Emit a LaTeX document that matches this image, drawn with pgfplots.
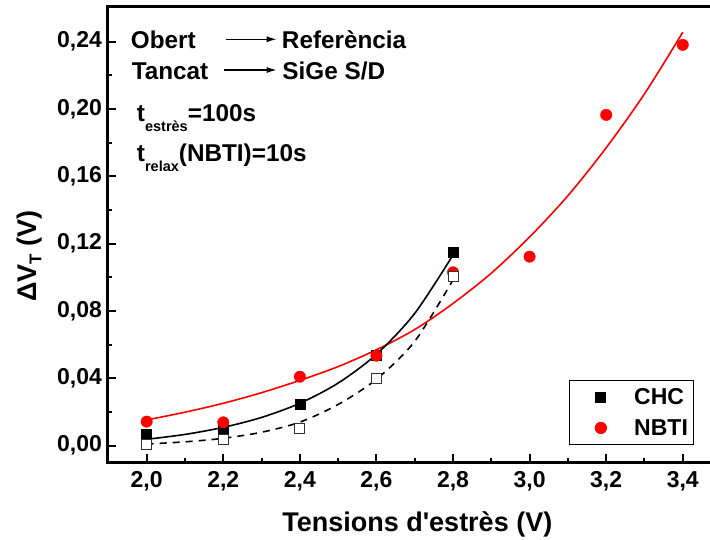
\documentclass[border=0pt]{standalone}
\usepackage{fontspec}
\setmainfont{Liberation Sans}
\usepackage{pgfplots}
\pgfplotsset{compat=1.18}
\usetikzlibrary{arrows.meta,calc}

\pgfplotstableread{
x y
2.0 0.0068
2.2 0.0099
2.4 0.0248
2.6 0.0539
2.8 0.1147
}\chcfilled
\pgfplotstableread{
x y
2.0 0.0010
2.2 0.0038
2.4 0.0101
2.6 0.0402
2.8 0.1004
}\chcopen
\pgfplotstableread{
x y
2.0 0.0143
2.2 0.0139
2.4 0.0410
2.6 0.0535
2.8 0.1030
3.0 0.1123
3.2 0.1965
3.4 0.2381
}\nbti

\begin{document}
\begin{tikzpicture}
\begin{axis}[
  name=ax,
  scale only axis,
  width=603.5pt, height=455pt,
  xmin=1.899, xmax=3.475,
  ymin=-0.00968, ymax=0.2606,
  axis line style={line width=3pt},
  tick align=inside,
  xtick pos=left, ytick pos=left,
  xtick={2.0,2.2,2.4,2.6,2.8,3.0,3.2,3.4},
  ytick={0,0.04,0.08,0.12,0.16,0.20,0.24},
  minor x tick num=1, minor y tick num=1,
  major tick length=8pt, minor tick length=4pt,
  every tick/.style={black, line width=2pt},
  scaled x ticks=false, scaled y ticks=false,
  xticklabel style={/pgf/number format/use comma, /pgf/number format/fixed, /pgf/number format/fixed zerofill, /pgf/number format/precision=1, /pgf/number format/assume math mode=true, yshift=-6pt},
  yticklabel style={/pgf/number format/use comma, /pgf/number format/fixed, /pgf/number format/fixed zerofill, /pgf/number format/precision=2, /pgf/number format/assume math mode=true, xshift=-2.5pt},
  tick label style={font=\bfseries\fontsize{23}{27}\selectfont},
  xlabel={Tensions d\textquotesingle estrès (V)},
  xlabel style={font=\bfseries\fontsize{27}{30}\selectfont, at={([yshift=-69pt]rel axis cs:0.5125,0)}, anchor=base},
  ylabel={ΔV\raisebox{-0.3ex}{\fontsize{17}{18}\selectfont T} (V)},
  ylabel style={font=\bfseries\fontsize{27}{30}\selectfont, at={([xshift=-71pt]rel axis cs:0,0.4527)}, anchor=base},
  legend image code/.code={\path (0pt,0pt) (58.7pt,0pt); \draw[#1] plot coordinates {(27.7pt,0pt)};},
  legend style={at={(rel axis cs:1,0)}, anchor=south east, xshift=-18.2pt, yshift=17pt,
    draw=black, line width=0.8pt, font=\bfseries\fontsize{23}{26}\selectfont,
    inner xsep=3pt, inner ysep=6pt, row sep=9pt, column sep=0pt},
  legend cell align=left,
]
\addplot[only marks, mark=square*, mark size=5pt, black] table {\chcfilled};
\addlegendentry{CHC}
\addplot[only marks, mark=*, mark size=5.7pt, red, mark options={draw=red, fill=red}] table {\nbti};
\addlegendentry{NBTI}
\addplot[only marks, mark=square*, mark size=5pt, forget plot, mark options={draw=black!80, fill=white, line width=0.9pt}] table {\chcopen};
\addplot[red, line width=1.6pt, smooth, forget plot] coordinates {
(2.0,0.0153) (2.1,0.0199) (2.2,0.0252) (2.3,0.0315) (2.4,0.0388) (2.5,0.0470)
(2.6,0.0570) (2.7,0.0690) (2.8,0.0845) (2.9,0.1025) (3.0,0.1240) (3.1,0.1485)
(3.2,0.1770) (3.3,0.2090) (3.4,0.2456)};
\addplot[black, line width=1.6pt, smooth, forget plot] coordinates {
(2.0,0.0038) (2.1,0.0067) (2.2,0.0109) (2.3,0.0168) (2.4,0.0252) (2.5,0.0372)
(2.6,0.0543) (2.7,0.0786) (2.8,0.1133)};
\addplot[black, line width=1.6pt, dash pattern=on 7pt off 6pt, smooth, forget plot] coordinates {
(2.0,0.0010) (2.1,0.0023) (2.2,0.0044) (2.3,0.0080) (2.4,0.0140) (2.5,0.0245)
(2.6,0.0395) (2.7,0.0620) (2.8,0.0985)};

\begin{scope}[font=\bfseries\fontsize{24.3}{28}\selectfont]
\node[anchor=base west, inner sep=0] at ([xshift=22.7pt,yshift=-42pt]rel axis cs:0,1) {Obert};
\node[anchor=base west, inner sep=0] at ([xshift=173.8pt,yshift=-42pt]rel axis cs:0,1) {Referència};
\node[anchor=base west, inner sep=0] at ([xshift=23.6pt,yshift=-72.3pt]rel axis cs:0,1) {Tancat};
\node[anchor=base west, inner sep=0] at ([xshift=174.3pt,yshift=-72.3pt]rel axis cs:0,1) {SiGe S/D};
\node[anchor=base west, inner sep=0] at ([xshift=28.8pt,yshift=-114.7pt]rel axis cs:0,1) {t\raisebox{-9.5pt}{\fontsize{14.5}{15}\selectfont estrès}=100s};
\node[anchor=base west, inner sep=0] at ([xshift=28.8pt,yshift=-154.7pt]rel axis cs:0,1) {t\raisebox{-9.5pt}{\fontsize{14.5}{15}\selectfont relax}(NBTI)=10s};
\end{scope}
\draw[line width=1.3pt, -{Latex[length=10pt,width=6pt]}] ([xshift=117.7pt,yshift=-32.3pt]rel axis cs:0,1) -- ([xshift=168.7pt,yshift=-32.3pt]rel axis cs:0,1);
\draw[line width=1.3pt, -{Latex[length=10pt,width=6pt]}] ([xshift=116pt,yshift=-63pt]rel axis cs:0,1) -- ([xshift=168.7pt,yshift=-63pt]rel axis cs:0,1);
\end{axis}
\pgfresetboundingbox
\path ($(ax.south west)+(-108pt,-77pt)$) rectangle ($(ax.north east)+(-1.5pt,7pt)$);
\end{tikzpicture}
\end{document}
